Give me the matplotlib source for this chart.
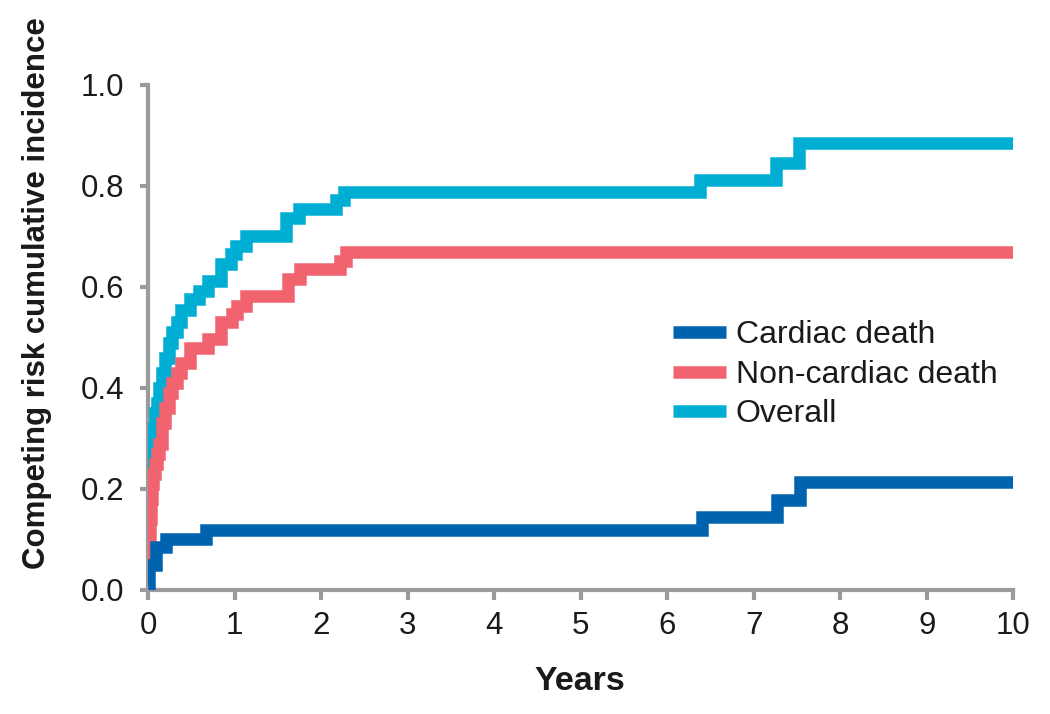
import matplotlib
matplotlib.use("Agg")
import matplotlib.pyplot as plt

# step times (years) and cumulative incidence values
cardiac_t = [0, 0.01, 0.09, 0.21, 0.67, 6.40, 7.27, 7.53, 10]
cardiac_v = [0, 0.05, 0.085, 0.10, 0.119, 0.145, 0.178, 0.213, 0.213]

noncard_t = [0, 0.005, 0.01, 0.02, 0.03, 0.045, 0.06, 0.08, 0.10, 0.13, 0.16, 0.20,
             0.24, 0.28, 0.33, 0.38, 0.48, 0.69, 0.84, 0.97, 1.03, 1.13, 1.62, 1.76,
             2.22, 2.29, 10]
noncard_v = [0, 0.06, 0.10, 0.14, 0.18, 0.21, 0.23, 0.25, 0.27, 0.29, 0.33, 0.36,
             0.39, 0.41, 0.43, 0.45, 0.48, 0.496, 0.53, 0.546, 0.562, 0.582, 0.615, 0.635,
             0.651, 0.670, 0.670]

overall_t = [0, 0.005, 0.01, 0.02, 0.03, 0.045, 0.06, 0.08, 0.10, 0.13, 0.16, 0.20,
             0.24, 0.28, 0.33, 0.38, 0.48, 0.59, 0.69, 0.84, 0.96, 1.02, 1.13, 1.59,
             1.75, 2.17, 2.27, 6.38, 7.26, 7.52, 10]
overall_v = [0, 0.10, 0.17, 0.22, 0.26, 0.30, 0.32, 0.35, 0.37, 0.40, 0.43, 0.46,
             0.49, 0.51, 0.53, 0.555, 0.576, 0.593, 0.612, 0.646, 0.665, 0.681, 0.701, 0.737,
             0.755, 0.773, 0.789, 0.812, 0.845, 0.885, 0.885]

x_ticks = list(range(0, 11))
y_ticks = [0.0, 0.2, 0.4, 0.6, 0.8, 1.0]

BLUE, RED, CYAN = "#0063b0", "#f0636f", "#00aed3"
AXIS_GRAY = "#9b9b9d"
TEXT = "#1a1a1a"

plt.rcParams["font.family"] = ["Liberation Sans", "DejaVu Sans"]

fig = plt.figure(figsize=(10.5, 7.14), dpi=100, facecolor="white")
ax = fig.add_axes([0.141, 0.1737, 0.824, 0.7073])

lw = 9
common = dict(where="post", linewidth=lw, solid_joinstyle="miter", solid_capstyle="butt")
l_over, = ax.step(overall_t, overall_v, color=CYAN, label="Overall", zorder=3, **common)
l_non, = ax.step(noncard_t, noncard_v, color=RED, label="Non-cardiac death", zorder=4, **common)
l_card, = ax.step(cardiac_t, cardiac_v, color=BLUE, label="Cardiac death", zorder=5, **common)

ax.set_xlim(0, 10)
ax.set_ylim(0, 1.0)
ax.set_xticks(x_ticks)
ax.set_yticks(y_ticks)
ax.set_yticklabels(["%.1f" % v for v in y_ticks])

for spine in ("top", "right"):
    ax.spines[spine].set_visible(False)
for spine in ("left", "bottom"):
    ax.spines[spine].set_color(AXIS_GRAY)
    ax.spines[spine].set_linewidth(3)
ax.tick_params(axis="x", direction="out", length=7, width=3, color=AXIS_GRAY,
               labelsize=22.5, pad=8, labelcolor=TEXT)
ax.tick_params(axis="y", direction="out", length=6, width=3, color=AXIS_GRAY,
               labelsize=22.5, pad=11, labelcolor=TEXT)

fig.text(580 / 1050, 1 - 690 / 714, "Years", ha="center", va="baseline",
         fontsize=24.5, fontweight="bold", color=TEXT)
fig.text(37 / 1050, 1 - 293 / 714, "Competing risk cumulative incidence", rotation=90,
         ha="center", va="center", fontsize=22.5, fontweight="bold", color=TEXT)

ax.legend(handles=[l_card, l_non, l_over], loc="center left",
          bbox_to_anchor=(0.607, 0.426), frameon=False, fontsize=23,
          handlelength=1.66, handletextpad=0.3, labelspacing=0.3, borderpad=0,
          borderaxespad=0, labelcolor=TEXT)

fig.savefig("out.png", dpi=100, facecolor="white")
